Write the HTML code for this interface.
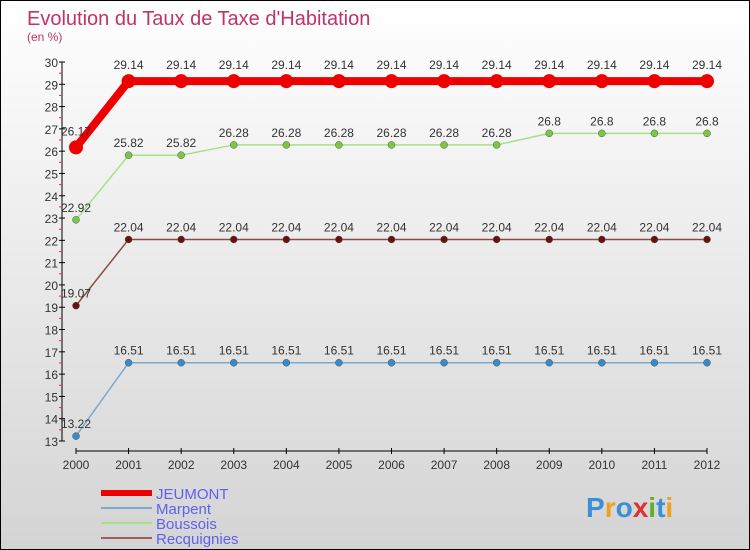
<!DOCTYPE html>
<html><head><meta charset="utf-8"><style>
body{margin:0}
#c{width:748px;height:548px;border:1px solid #000;background:linear-gradient(#ffffff,#d4d4d4);position:relative;font-family:"Liberation Sans",sans-serif;overflow:hidden}
svg{position:absolute;left:0;top:0}
</style></head><body>
<div id="c">
<svg id="s" width="750" height="550">
<text x="26" y="24" font-size="20" fill="#c0336a">Evolution du Taux de Taxe d'Habitation</text>
<text x="26" y="40" font-size="12" fill="#c0336a">(en %)</text>
<text x="585" y="516" font-size="28" font-weight="bold"><tspan fill="#3a8fd8">P</tspan><tspan fill="#f0a020">r</tspan><tspan fill="#3a8fd8">o</tspan><tspan fill="#e03030">x</tspan><tspan fill="#60b030">i</tspan><tspan fill="#3a8fd8">t</tspan><tspan fill="#f0a020">i</tspan></text>
</svg>
</div>
<script>
const years=[2000,2001,2002,2003,2004,2005,2006,2007,2008,2009,2010,2011,2012];
const jeumont=[26.17,29.14,29.14,29.14,29.14,29.14,29.14,29.14,29.14,29.14,29.14,29.14,29.14];
const marpent=[13.22,16.51,16.51,16.51,16.51,16.51,16.51,16.51,16.51,16.51,16.51,16.51,16.51];
const boussois=[22.92,25.82,25.82,26.28,26.28,26.28,26.28,26.28,26.28,26.8,26.8,26.8,26.8];
const recq=[19.07,22.04,22.04,22.04,22.04,22.04,22.04,22.04,22.04,22.04,22.04,22.04,22.04];
const jLabels=["26.17","29.14","29.14","29.14","29.14","29.14","29.14","29.14","29.14","29.14","29.14","29.14","29.14"];
const mLabels=["13.22","16.51","16.51","16.51","16.51","16.51","16.51","16.51","16.51","16.51","16.51","16.51","16.51"];
const bLabels=["22.92","25.82","25.82","26.28","26.28","26.28","26.28","26.28","26.28","26.8","26.8","26.8","26.8"];
const rLabels=["19.07","22.04","22.04","22.04","22.04","22.04","22.04","22.04","22.04","22.04","22.04","22.04","22.04"];
const yTicks=[13,14,15,16,17,18,19,20,21,22,23,24,25,26,27,28,29,30];
const NS="http://www.w3.org/2000/svg";
const svg=document.getElementById('s');
const X=i=>75+i*(706-75)/(years.length-1);
const Y=v=>440-(v-13)*(440-61)/17;
function el(t,a,p){const e=document.createElementNS(NS,t);for(const k in a)e.setAttribute(k,a[k]);(p||svg).appendChild(e);return e;}
// axes
let ya=el('line',{x1:61,y1:Y(30),x2:61,y2:Y(13),stroke:'#000'});


yTicks.forEach(v=>{
 el('line',{x1:58,x2:64,y1:Y(v),y2:Y(v),stroke:'#000'});
 if(v<30){el('line',{x1:58,x2:61,y1:Y(v+0.5),y2:Y(v+0.5),stroke:'#e03030'});}
 const t=el('text',{x:57,y:Y(v)+5,'font-size':12,'text-anchor':'end',fill:'#333'});
 t.textContent=v;
 
 
});
let xa=el('line',{x1:75,y1:450,x2:706,y2:450,stroke:'#000'});


years.forEach((y,i)=>{
 el('line',{x1:X(i),x2:X(i),y1:447,y2:453,stroke:'#000'});
 const t=el('text',{x:X(i),y:468,'font-size':12,'text-anchor':'middle',fill:'#333'});
 t.textContent=y;
 
 
});
function series(vals,labels,color,fill,w,r,name){
 const g=el('g',{});
 
 
 el('polyline',{points:vals.map((v,i)=>X(i)+','+Y(v)).join(' '),fill:'none',stroke:color,'stroke-width':w,'stroke-linejoin':'round'},g);
 vals.forEach((v,i)=>{
  const c=el('circle',{cx:X(i),cy:Y(v),r:r,fill:fill,stroke:w>4?fill:'#555','stroke-width':w>4?0:0.5},g);
  
  
  const t=el('text',{x:X(i),y:Y(v)-(w>4?12:8),'font-size':12,'text-anchor':'middle',fill:'#333'},g);
  t.textContent=labels[i];
  
  
 });
}
series(recq,rLabels,'#8a4a4a','#6a1010',1.5,3.5,'recquignies');
series(marpent,mLabels,'#7aaad0','#3a8ac8',1.5,3.5,'marpent');
series(boussois,bLabels,'#a8e088','#78c840',1.5,3.5,'boussois');
series(jeumont,jLabels,'#ee0000','#ee0000',8,7,'jeumont');
const legNames=['JEUMONT','Marpent','Boussois','Recquignies'];
const legColors=['#ee0000','#7aaad0','#a8e088','#9a6060'];
legNames.forEach((n,i)=>{
 const yy=492+i*15;
 const g=el('g',{});
 
 
 el('line',{x1:100,x2:151,y1:yy,y2:yy,stroke:legColors[i],'stroke-width':i==0?6:2},g);
 const t=el('text',{x:155,y:yy+6,'font-size':15,fill:'#6060ee'},g);
 t.textContent=n;
});
</script>
</body></html>
